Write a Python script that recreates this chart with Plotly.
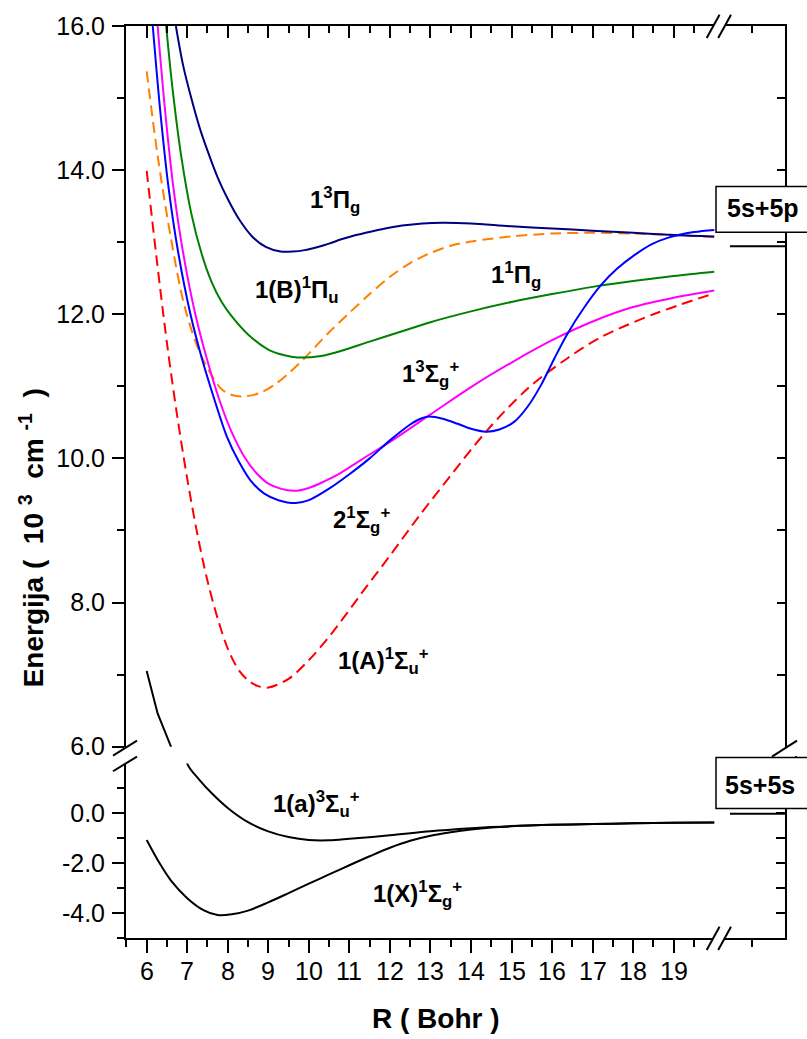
import plotly.graph_objects as go

# ---------------- data: R (Bohr), E (10^3 cm^-1) ----------------
r_pi3g = [6.72, 6.9, 7.1, 7.3, 7.5, 7.75, 8.0, 8.3, 8.6, 8.95, 9.3, 9.6, 9.9, 10.2, 10.5, 10.8, 11.1, 11.4, 11.8, 12.3, 12.8, 13.3, 14.0, 15.0, 16.0, 17.0, 18.0, 19.0, 20.0]
e_pi3g = [16.0, 15.45, 15.0, 14.6, 14.27, 13.9, 13.6, 13.3, 13.08, 12.93, 12.87, 12.87, 12.89, 12.93, 12.98, 13.04, 13.09, 13.13, 13.18, 13.23, 13.26, 13.27, 13.26, 13.22, 13.19, 13.16, 13.13, 13.10, 13.08]

r_B = [6.48, 6.64, 6.85, 7.1, 7.35, 7.6, 7.85, 8.1, 8.5, 9.0, 9.4, 9.72, 10.3, 10.79, 11.5, 12.28, 13.0, 14.0, 15.0, 16.0, 17.0, 18.0, 19.0, 20.0]
e_B = [16.0, 15.12, 14.20, 13.40, 12.85, 12.45, 12.17, 11.97, 11.72, 11.51, 11.43, 11.40, 11.42, 11.49, 11.62, 11.76, 11.89, 12.04, 12.17, 12.28, 12.38, 12.46, 12.53, 12.59]

r_pi1g = [6.0, 6.27, 6.6, 6.93, 7.34, 7.83, 8.1, 8.41, 8.8, 9.15, 9.5, 9.89, 10.5, 11.0, 11.5, 12.0, 12.5, 13.0, 13.5, 14.0, 15.0, 16.0, 17.0, 18.0, 19.0, 20.0]
e_pi1g = [15.37, 14.2, 13.05, 12.12, 11.43, 10.97, 10.88, 10.86, 10.91, 11.02, 11.18, 11.39, 11.75, 12.02, 12.28, 12.52, 12.71, 12.85, 12.95, 13.01, 13.08, 13.12, 13.13, 13.12, 13.10, 13.07]

r_sig3g = [6.27, 6.45, 6.65, 6.9, 7.2, 7.5, 7.8, 8.1, 8.4, 8.7, 9.0, 9.3, 9.64, 10.0, 10.38, 10.79, 11.29, 12.03, 13.0, 14.0, 15.0, 16.0, 17.0, 18.0, 19.0, 20.0]
e_sig3g = [16.0, 14.85, 13.80, 12.85, 12.00, 11.35, 10.80, 10.36, 10.03, 9.80, 9.65, 9.58, 9.55, 9.59, 9.68, 9.80, 9.98, 10.24, 10.61, 10.99, 11.33, 11.64, 11.90, 12.10, 12.23, 12.33]

r_2sig = [6.15, 6.33, 6.53, 6.78, 7.08, 7.38, 7.68, 7.98, 8.28, 8.58, 8.9, 9.25, 9.68, 10.0, 10.5, 11.0, 11.5, 12.0, 12.5, 12.75, 12.97, 13.3, 13.67, 14.0, 14.37, 14.7, 15.07, 15.4, 15.73, 16.05, 16.38, 16.8, 17.2, 17.6, 18.03, 18.45, 18.85, 19.5, 20.0]
e_2sig = [16.0, 14.85, 13.80, 12.85, 12.00, 11.35, 10.80, 10.30, 9.95, 9.68, 9.51, 9.42, 9.38, 9.42, 9.58, 9.78, 10.00, 10.25, 10.47, 10.55, 10.58, 10.55, 10.48, 10.41, 10.37, 10.40, 10.51, 10.72, 11.02, 11.38, 11.73, 12.10, 12.40, 12.63, 12.82, 12.97, 13.06, 13.14, 13.17]

r_A = [6.0, 6.25, 6.5, 6.75, 7.0, 7.25, 7.5, 7.75, 8.0, 8.25, 8.5, 8.75, 9.0, 9.5, 10.0, 10.55, 11.29, 12.0, 12.72, 13.51, 14.37, 15.4, 16.38, 17.2, 18.5, 20.0]
e_A = [13.99, 12.75, 11.6, 10.6, 9.72, 8.95, 8.3, 7.78, 7.36, 7.08, 6.92, 6.84, 6.82, 6.94, 7.2, 7.56, 8.12, 8.65, 9.20, 9.77, 10.37, 10.97, 11.39, 11.68, 12.0, 12.29]

r_a = [6.0, 6.27, 6.6, 6.8, 7.0, 7.3, 7.6, 8.0, 8.5, 9.0, 9.5, 10.0, 10.5, 11.0, 12.0, 13.0, 14.0, 14.5, 15.0, 16.0, 17.0, 18.0, 19.0, 20.0]
e_a = [7.05, 6.46, 6.0, 4.0, 2.0, 1.35, 0.82, 0.22, -0.35, -0.72, -0.95, -1.07, -1.08, -1.02, -0.88, -0.72, -0.60, -0.55, -0.51, -0.46, -0.43, -0.40, -0.38, -0.36]

r_X = [6.0, 6.3, 6.6, 7.0, 7.4, 7.75, 8.1, 8.5, 9.0, 9.5, 10.0, 10.5, 11.0, 11.5, 12.0, 12.5, 13.0, 13.5, 14.0, 14.5, 15.0, 16.0, 17.0, 18.0, 19.0, 20.0]
e_X = [-1.07, -1.95, -2.7, -3.4, -3.88, -4.08, -4.05, -3.9, -3.57, -3.2, -2.82, -2.45, -2.08, -1.72, -1.38, -1.10, -0.90, -0.76, -0.65, -0.57, -0.52, -0.46, -0.43, -0.40, -0.38, -0.36]

# labels (text, R, E, panel)
lab_text = ["1<sup>3</sup>Π<sub>g</sub>", "1(B)<sup>1</sup>Π<sub>u</sub>", "1<sup>1</sup>Π<sub>g</sub>",
            "1<sup>3</sup>Σ<sub>g</sub><sup>+</sup>", "2<sup>1</sup>Σ<sub>g</sub><sup>+</sup>",
            "1(A)<sup>1</sup>Σ<sub>u</sub><sup>+</sup>", "1(a)<sup>3</sup>Σ<sub>u</sub><sup>+</sup>",
            "1(X)<sup>1</sup>Σ<sub>g</sub><sup>+</sup>"]
lab_r = [10.65, 9.72, 15.11, 13.0, 11.3, 11.85, 10.19, 12.68]
lab_e = [13.59, 12.34, 12.55, 11.17, 9.14, 7.19, 0.39, -3.24]
lab_panel = ["up", "up", "up", "up", "up", "up", "low", "low"]

x_major = list(range(6, 20))
x_text = [str(v) for v in x_major]
x_minor = [v + 0.5 for v in range(5, 20)] + [20.93]
yu_major = [6, 8, 10, 12, 14, 16]
yu_minor = [7, 9, 11, 13, 15]
yl_major = [-4, -2, 0]
yl_text = ["-4.0", "-2.0", "0.0"]
yl_minor = [-5, -3, -1, 1]

# ---------------- figure ----------------
W, H = 807, 1039
L, R, T, B = 126, 22, 23, 101
PH = H - T - B
PW = W - L - R

def px2paperx(px):
    return (px - L) / PW

def py2papery(py):
    return (H - B - py) / PH

FONT = "Liberation Sans, Arial, Helvetica, sans-serif"
XR = [5.49, 21.745]
low_dom = [0, py2papery(763)]
up_dom = [py2papery(746), 1]

fig = go.Figure()

def add_curve(r, e, color, dash, ax, shape="spline"):
    line = dict(color=color, width=2, dash=dash, shape=shape)
    if shape == "spline":
        line["smoothing"] = 0.9
    fig.add_trace(go.Scatter(x=r, y=e, mode="lines", line=line,
                             xaxis=ax[0], yaxis=ax[1], showlegend=False, hoverinfo="skip"))

UP = ("x2", "y2")
LOW = ("x", "y")
DASH = "11px,6px"
add_curve(r_A, e_A, "#FF0000", DASH, UP)
add_curve(r_pi1g, e_pi1g, "#FF8000", DASH, UP)
add_curve(r_pi3g, e_pi3g, "#000080", "solid", UP)
add_curve(r_B, e_B, "#008000", "solid", UP)
add_curve(r_sig3g, e_sig3g, "#FF00FF", "solid", UP)
add_curve(r_2sig, e_2sig, "#0000FF", "solid", UP)
add_curve(r_a, e_a, "#000000", "solid", UP, shape="linear")
add_curve(r_a, e_a, "#000000", "solid", LOW)
add_curve(r_X, e_X, "#000000", "solid", LOW)
# anchors for the right-hand axes
fig.add_trace(go.Scatter(x=[], y=[], xaxis="x2", yaxis="y3", showlegend=False))
fig.add_trace(go.Scatter(x=[], y=[], xaxis="x", yaxis="y4", showlegend=False))

tickfont = dict(family=FONT, size=25, color="black")
common = dict(showline=True, linecolor="black", linewidth=2, showgrid=False, zeroline=False,
              tickcolor="black", tickwidth=2)

fig.update_layout(
    width=W, height=H, margin=dict(l=L, r=R, t=T, b=B, pad=0),
    paper_bgcolor="white", plot_bgcolor="white", showlegend=False,
    xaxis=dict(domain=[0, 1], anchor="y", range=XR, side="bottom", ticks="outside", ticklen=13,
               tickmode="array", tickvals=x_major, showticklabels=False,
               minor=dict(tickvals=x_minor, ticklen=7, tickwidth=2, ticks="outside", tickcolor="black"),
               **common),
    xaxis2=dict(domain=[0, 1], anchor="y2", range=XR, side="top", ticks="inside", ticklen=12,
                tickmode="array", tickvals=x_major, showticklabels=False,
                minor=dict(tickvals=x_minor, ticklen=7, tickwidth=2, ticks="inside", tickcolor="black"),
                **common),
    yaxis=dict(domain=low_dom, anchor="x", range=[-5, 2], ticks="outside", ticklen=12,
               tickmode="array", tickvals=yl_major, ticktext=yl_text, tickfont=tickfont,
               ticklabelstandoff=2,
               minor=dict(tickvals=yl_minor, ticklen=7, tickwidth=2, ticks="outside", tickcolor="black"),
               **common),
    yaxis2=dict(domain=up_dom, anchor="x2", range=[6, 16], ticks="outside", ticklen=12,
                tickmode="array", tickvals=yu_major, tickformat=".1f", tickfont=tickfont,
                ticklabelstandoff=2,
                minor=dict(tickvals=yu_minor, ticklen=7, tickwidth=2, ticks="outside", tickcolor="black"),
                **common),
    yaxis3=dict(overlaying="y2", anchor="x2", side="right", range=[6, 16], ticks="inside", ticklen=8,
                tickmode="array", tickvals=list(range(6, 17)), showticklabels=False, **common),
    yaxis4=dict(overlaying="y", anchor="x", side="right", range=[-5, 2], ticks="inside", ticklen=9,
                tickmode="array", tickvals=[-4, -3, -2, -1, 0, 1], showticklabels=False, **common),
)

shapes = []
def seg(x0, y0, x1, y1, w=2):
    shapes.append(dict(type="line", xref="paper", yref="paper",
                       x0=px2paperx(x0), y0=py2papery(y0), x1=px2paperx(x1), y1=py2papery(y1),
                       line=dict(color="black", width=w), layer="above"))

def wrect(x0, y0, x1, y1):
    shapes.append(dict(type="rect", xref="paper", yref="paper",
                       x0=px2paperx(x0), y0=py2papery(y0), x1=px2paperx(x1), y1=py2papery(y1),
                       line=dict(width=0), fillcolor="white", layer="above"))

# x-axis breaks (bottom and top)
wrect(713, 932, 725, 944)
wrect(713, 17, 725, 29)
for dx in (0, 11.5):
    seg(706.7 + dx, 950, 719.5 + dx, 926.7)
    seg(706.7 + dx, 35, 719.5 + dx, 11.7)
# y-axis breaks (left and right)
seg(113, 755, 137, 740)
seg(113, 770.7, 137, 756)
seg(772, 756, 797, 740)
seg(772, 771.7, 797, 756)
# asymptote markers
seg(730, 244, 785, 244)
seg(730, 813.3, 785, 813.3)
# boxes
for (y0, y1) in ((184, 230), (757, 808)):
    shapes.append(dict(type="rect", xref="paper", yref="paper",
                       x0=px2paperx(716), y0=py2papery(y0), x1=px2paperx(830), y1=py2papery(y1),
                       line=dict(color="black", width=1.5), fillcolor="white", layer="above"))
fig.update_layout(shapes=shapes)

ann = []
# x tick labels (placed on the x axis scale)
for v, t in zip(x_major, x_text):
    ann.append(dict(text=t, x=v, xref="x", y=py2papery(971), yref="paper", showarrow=False,
                    xanchor="center", yanchor="middle", font=tickfont))
for t, xr, ye, p in zip(lab_text, lab_r, lab_e, lab_panel):
    ann.append(dict(text="<b>" + t + "</b>", x=xr, y=ye,
                    xref="x2" if p == "up" else "x", yref="y2" if p == "up" else "y",
                    showarrow=False, xanchor="center", yanchor="middle",
                    font=dict(family=FONT, size=24, color="black")))
for t, px, py in (("5s+5p", 763, 206), ("5s+5s", 760, 784)):
    ann.append(dict(text="<b>" + t + "</b>", x=px2paperx(px), y=py2papery(py), xref="paper", yref="paper",
                    showarrow=False, xanchor="center", yanchor="middle",
                    font=dict(family=FONT, size=25, color="black")))
NB = "\u00a0"
ytitle = "<b>Energija (" + NB + " 10" + NB + "<sup>3</sup>" + NB + " cm" + NB + "<sup>-1</sup>" + NB + " )</b>"
ann.append(dict(text=ytitle, x=px2paperx(32), y=py2papery(537),
                xref="paper", yref="paper", showarrow=False, textangle=-90,
                xanchor="center", yanchor="middle", font=dict(family=FONT, size=28, color="black")))
ann.append(dict(text="<b>R ( Bohr )</b>", x=px2paperx(436), y=py2papery(1019),
                xref="paper", yref="paper", showarrow=False,
                xanchor="center", yanchor="middle", font=dict(family=FONT, size=28, color="black")))
fig.update_layout(annotations=ann)

fig.write_html("out.html", config={"displayModeBar": False},
               post_script="document.body.style.margin='0';document.body.style.overflow='hidden';")
